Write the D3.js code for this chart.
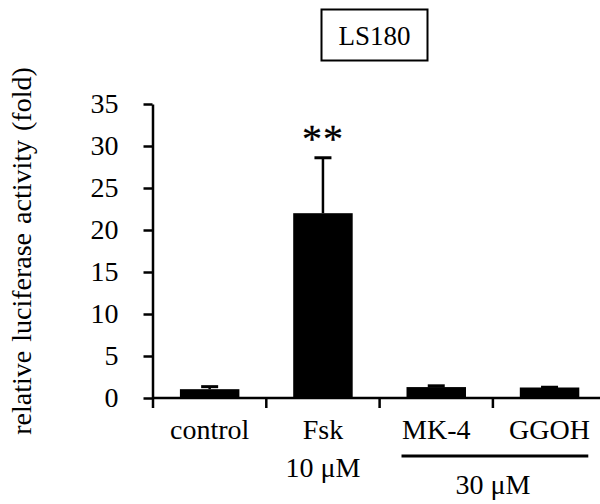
<!DOCTYPE html>
<html>
<head>
<meta charset="utf-8">
<script src="https://cdn.jsdelivr.net/npm/d3@7"></script>
<style>
  html, body { margin: 0; padding: 0; background: #fff; }
  svg text { font-family: "Liberation Serif", "Times New Roman", serif !important; fill: #000; }
</style>
</head>
<body>
<svg id="chart" width="600" height="504"></svg>
<script>
const categories = ["control", "Fsk", "MK-4", "GGOH"];
const means = [1.05, 22.0, 1.3, 1.25];
const errors = [0.3, 6.6, 0.15, 0.03];
const sublabels = ["", "10 μM", "", ""];
const groupLabel = "30 μM";
const groupMembers = ["MK-4", "GGOH"];
const yTicks = [0, 5, 10, 15, 20, 25, 30, 35];
const significance = ["", "**", "", ""];
const title = "LS180";
const yLabel = "relative luciferase activity (fold)";

const svg = d3.select("#chart");
const fs = 28;

const y = d3.scaleLinear().domain([0, 35]).range([398, 104]);
const x = d3.scaleBand().domain(categories).range([153, 606.2])
  .paddingInner(0.475).paddingOuter(0.2375);

// bars
svg.append("g").selectAll("rect").data(categories).join("rect")
  .attr("x", d => x(d))
  .attr("width", x.bandwidth())
  .attr("y", (d, i) => y(means[i]))
  .attr("height", (d, i) => y(0) - y(means[i]))
  .attr("fill", "#000");

// error bars (upper only)
const eb = svg.append("g");
categories.forEach((c, i) => {
  const cx = x(c) + x.bandwidth() / 2;
  const top = y(means[i] + errors[i]);
  eb.append("line").attr("x1", cx).attr("x2", cx)
    .attr("y1", y(means[i])).attr("y2", top)
    .attr("stroke", "#000").attr("stroke-width", 2.5);
  eb.append("line").attr("x1", cx - 8.5).attr("x2", cx + 8.5)
    .attr("y1", top).attr("y2", top)
    .attr("stroke", "#000").attr("stroke-width", 3);
  if (significance[i]) {
    svg.append("text").attr("x", cx).attr("y", top - 6)
      .attr("text-anchor", "middle").attr("font-size", 40)
      .attr("letter-spacing", 1)
      .attr("stroke", "#000").attr("stroke-width", 0.3)
      .text(significance[i]);
  }
});

// y axis
const yAxis = svg.append("g").attr("transform", "translate(152.5,0)")
  .call(d3.axisLeft(y).tickValues(yTicks).tickSize(9).tickSizeOuter(0).tickPadding(25));
yAxis.attr("font-family", null);
yAxis.select(".domain").attr("stroke-width", 2.5);
yAxis.selectAll(".tick line").attr("stroke-width", 2.5);
yAxis.selectAll(".tick text").attr("font-size", fs);

// x axis: line with ticks at category boundaries
const half = (x.step() - x.bandwidth()) / 2;
const bounds = categories.map(c => x(c) - half).concat([x(categories[categories.length - 1]) + x.bandwidth() + half]);
const xAxis = svg.append("g").attr("transform", "translate(0,398)")
  .call(d3.axisBottom(x).tickSize(0).tickPadding(21));
xAxis.attr("font-family", null);
xAxis.select(".domain").attr("d", `M${bounds[0] - 1},0H${bounds[bounds.length - 1]}`)
  .attr("stroke-width", 2.5);
xAxis.selectAll(".tick text").attr("font-size", fs);
xAxis.selectAll(".bound").data(bounds).join("line").attr("class", "bound")
  .attr("x1", d => d).attr("x2", d => d).attr("y1", 0).attr("y2", 10)
  .attr("stroke", "#000").attr("stroke-width", 2.5);

// sub labels
categories.forEach((c, i) => {
  if (sublabels[i]) {
    svg.append("text").attr("x", x(c) + x.bandwidth() / 2).attr("y", 477)
      .attr("text-anchor", "middle").attr("font-size", fs).text(sublabels[i]);
  }
});

// group line and label
const g0 = x(groupMembers[0]) - 5;
const g1 = x(groupMembers[groupMembers.length - 1]) + x.bandwidth() + 9;
svg.append("line").attr("x1", g0).attr("x2", g1).attr("y1", 456).attr("y2", 456)
  .attr("stroke", "#000").attr("stroke-width", 3);
svg.append("text").attr("x", bounds[3]).attr("y", 494)
  .attr("text-anchor", "middle").attr("font-size", fs).text(groupLabel);

// title box
svg.append("rect").attr("x", 321.5).attr("y", 9.5).attr("width", 106).attr("height", 51)
  .attr("fill", "none").attr("stroke", "#000").attr("stroke-width", 2);
svg.append("text").attr("x", 374.5).attr("y", 45).attr("text-anchor", "middle")
  .attr("font-size", 27).text(title);

// y label
svg.append("text").attr("transform", "translate(31,251) rotate(-90)")
  .attr("text-anchor", "middle").attr("font-size", fs).attr("word-spacing", 2)
  .text(yLabel);
</script>
</body>
</html>
